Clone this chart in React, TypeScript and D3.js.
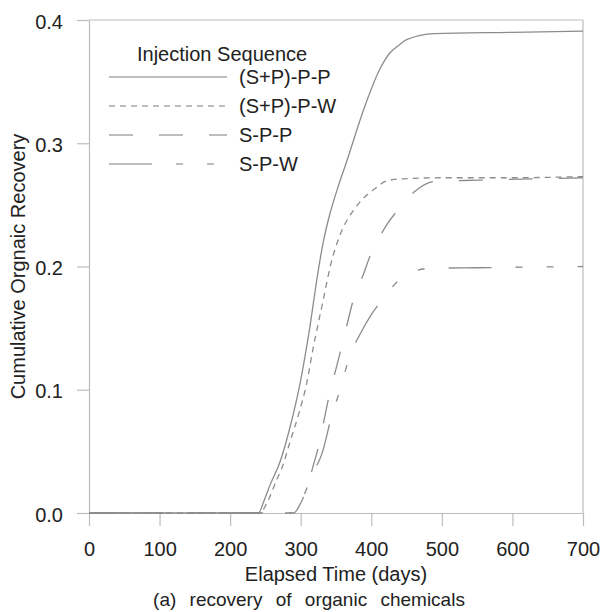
import { useEffect, useRef } from "react";
import * as d3 from "d3";

// days vs cumulative recovery
const spp_p: [number, number][] = [
  [0, 0], [240, 0], [248, 0.01], [256, 0.022], [271, 0.042], [285, 0.07], [299, 0.105],
  [313, 0.151], [323, 0.19], [332, 0.22], [341, 0.242], [352, 0.263], [365, 0.285],
  [389, 0.327], [412, 0.36], [426, 0.373], [440, 0.38], [450, 0.384], [490, 0.389],
  [600, 0.39], [700, 0.391],
];
const spp_w: [number, number][] = [
  [0, 0], [242, 0], [252, 0.008], [266, 0.027], [273, 0.036], [285, 0.058], [298, 0.082],
  [308, 0.104], [318, 0.135], [332, 0.173], [341, 0.198], [356, 0.226], [374, 0.245],
  [390, 0.256], [405, 0.263], [420, 0.269], [440, 0.271], [500, 0.272], [600, 0.272], [700, 0.273],
];
const sp_p: [number, number][] = [
  [0, 0], [290, 0], [299, 0.007], [308, 0.019], [318, 0.039], [327, 0.058], [334, 0.078],
  [341, 0.097], [350, 0.117], [358, 0.135], [367, 0.156], [375, 0.174], [389, 0.194],
  [400, 0.211], [410, 0.222], [422, 0.234], [438, 0.246], [462, 0.261], [490, 0.269],
  [550, 0.27], [700, 0.272],
];
const sp_w: [number, number][] = [
  [0, 0], [290, 0], [299, 0.007], [308, 0.019], [318, 0.033], [330, 0.048], [344, 0.079],
  [358, 0.104], [368, 0.125], [385, 0.146], [400, 0.161], [417, 0.174], [441, 0.19],
  [460, 0.196], [483, 0.1985], [550, 0.199], [700, 0.2],
];

const seriesNames = ["(S+P)-P-P", "(S+P)-P-W", "S-P-P", "S-P-W"];
const seriesData = [spp_p, spp_w, sp_p, sp_w];
const dashes = ["none", "6,5", "24,26", "43,24,7,24,7,24"];

const xTicks = [0, 100, 200, 300, 400, 500, 600, 700];
const yTicks = [0, 0.1, 0.2, 0.3, 0.4];

const W = 603;
const H = 612;
const FONT = "'Liberation Sans', Arial, sans-serif";

export default function App() {
  const ref = useRef<SVGSVGElement>(null);

  useEffect(() => {
    const svg = d3.select(ref.current);
    svg.selectAll("*").remove();

    const left = 89, right = 583, top = 20, bottom = 513;
    const x = d3.scaleLinear().domain([0, 700]).range([left, right]);
    const y = d3.scaleLinear().domain([0, 0.4]).range([bottom, top]);

    const axisColor = "#bdbdbd";
    const textColor = "#222";

    // frame top/right
    svg.append("line")
      .attr("x1", left).attr("x2", right).attr("y1", top).attr("y2", top)
      .attr("stroke", axisColor).attr("stroke-width", 1.2);
    svg.append("line")
      .attr("x1", right).attr("x2", right).attr("y1", top).attr("y2", bottom)
      .attr("stroke", axisColor).attr("stroke-width", 1.2);

    // y axis
    const gy = svg.append("g")
      .attr("transform", `translate(${left},0)`)
      .call(d3.axisLeft(y).tickValues(yTicks).tickFormat(d3.format(".1f")).tickSize(12).tickSizeOuter(0).tickPadding(14));
    gy.select(".domain").attr("stroke", axisColor).attr("stroke-width", 1.2);
    gy.selectAll(".tick line").attr("stroke", axisColor).attr("stroke-width", 1.2);
    gy.selectAll(".tick text")
      .attr("font-family", FONT).attr("font-size", 20).attr("fill", textColor).attr("dy", "0.4em");

    // x axis
    const gx = svg.append("g")
      .attr("transform", `translate(0,${bottom})`)
      .call(d3.axisBottom(x).tickValues(xTicks).tickFormat(d3.format("d")).tickSize(13).tickSizeOuter(0).tickPadding(16));
    gx.select(".domain").attr("stroke", axisColor).attr("stroke-width", 1.2);
    gx.selectAll(".tick line").attr("stroke", axisColor).attr("stroke-width", 1.2);
    gx.selectAll(".tick text")
      .attr("font-family", FONT).attr("font-size", 20).attr("fill", textColor);

    // curves
    const line = d3.line<[number, number]>()
      .x(d => x(d[0]))
      .y(d => y(d[1]))
      .curve(d3.curveMonotoneX);

    seriesData.forEach((s, i) => {
      svg.append("path")
        .datum(s)
        .attr("fill", "none")
        .attr("stroke", "#8c8c8c")
        .attr("stroke-width", 1.3)
        .attr("stroke-dasharray", dashes[i])
        .attr("d", line);
    });

    // legend
    svg.append("text")
      .attr("x", 137).attr("y", 61)
      .attr("font-family", FONT).attr("font-size", 20).attr("fill", textColor)
      .text("Injection Sequence");
    seriesNames.forEach((name, i) => {
      const ly = 77 + i * 29;
      svg.append("line")
        .attr("x1", 109).attr("x2", 227).attr("y1", ly).attr("y2", ly)
        .attr("stroke", "#a8a8a8").attr("stroke-width", 1.3)
        .attr("stroke-dasharray", dashes[i]);
      svg.append("text")
        .attr("x", 239).attr("y", ly + 7)
        .attr("font-family", FONT).attr("font-size", 20).attr("fill", textColor)
        .text(name);
    });

    // axis titles
    svg.append("text")
      .attr("x", (left + right) / 2).attr("y", 581)
      .attr("text-anchor", "middle")
      .attr("font-family", FONT).attr("font-size", 20).attr("fill", textColor)
      .text("Elapsed Time (days)");
    svg.append("text")
      .attr("transform", `translate(25,${(top + bottom) / 2}) rotate(-90)`)
      .attr("text-anchor", "middle")
      .attr("font-family", FONT).attr("font-size", 20).attr("fill", textColor)
      .text("Cumulative Orgnaic Recovery");

    // caption
    svg.append("text")
      .attr("x", 309).attr("y", 606)
      .attr("text-anchor", "middle")
      .attr("font-family", FONT).attr("font-size", 19).attr("fill", textColor)
      .attr("word-spacing", 8)
      .text("(a) recovery of organic chemicals");
  }, []);

  return (
    <svg
      ref={ref}
      width={W}
      height={H}
      style={{ position: "absolute", left: 0, top: 0, background: "#fff" }}
    />
  );
}
